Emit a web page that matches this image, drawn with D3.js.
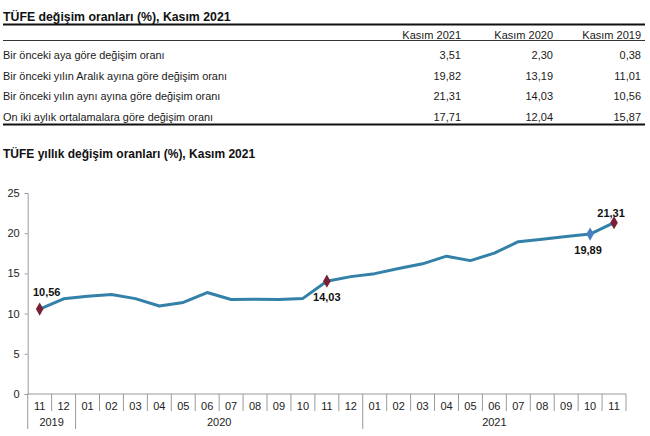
<!DOCTYPE html>
<html><head><meta charset="utf-8">
<script src="https://cdn.jsdelivr.net/npm/d3@7"></script>
<style>
html,body{margin:0;padding:0;background:#fff;}
svg{display:block;font-family:"Liberation Sans",Arial,sans-serif;}
</style></head>
<body><svg id="c" width="650" height="436"></svg>
<script>
const tableTitle = "TÜFE değişim oranları (%), Kasım 2021";
const tableCols = ["Kasım 2021","Kasım 2020","Kasım 2019"];
const rowLabels = [
  "Bir önceki aya göre değişim oranı",
  "Bir önceki yılın Aralık ayına göre değişim oranı",
  "Bir önceki yılın aynı ayına göre değişim oranı",
  "On iki aylık ortalamalara göre değişim oranı"
];
const kasim2021 = [3.51, 19.82, 21.31, 17.71];
const kasim2020 = [2.30, 13.19, 14.03, 12.04];
const kasim2019 = [0.38, 11.01, 10.56, 15.87];

const chartTitle = "TÜFE yıllık değişim oranları (%), Kasım 2021";
const months = ["11","12","01","02","03","04","05","06","07","08","09","10","11","12","01","02","03","04","05","06","07","08","09","10","11"];
const years = ["2019","2020","2021"];
const yearCounts = [2, 12, 11];
const values = [10.56,11.84,12.15,12.37,11.86,10.94,11.39,12.62,11.76,11.77,11.75,11.89,14.03,14.60,14.97,15.61,16.19,17.14,16.59,17.53,18.95,19.25,19.58,19.89,21.31];
const yTicks = [0,5,10,15,20,25];
const redMarkers = [0, 12, 24];
const blueMarkers = [23];

(function(){
const loc = d3.formatLocale({decimal:",", thousands:".", grouping:[3], currency:["","TL"]});
const f2 = loc.format(".2f");

const svg = d3.select("#c");
const txt = "#1a1a1a";

// ---------- table ----------
svg.append("text").attr("x",3).attr("y",21).attr("font-size",12.3).attr("font-weight","bold")
  .attr("fill","#111").text(tableTitle);
svg.append("line").attr("x1",3).attr("x2",645).attr("y1",24.5).attr("y2",24.5).attr("stroke","#111").attr("stroke-width",2);
svg.append("line").attr("x1",3).attr("x2",645).attr("y1",40.5).attr("y2",40.5).attr("stroke","#333").attr("stroke-width",1);
const colX = [461, 553, 641];
const colVals = [kasim2021, kasim2020, kasim2019];
tableCols.forEach((c,i)=>{
  svg.append("text").attr("x",colX[i]).attr("y",38.5).attr("text-anchor","end").attr("font-size",11).attr("fill",txt).text(c);
});
const rowY = [59, 79.5, 100, 120.5];
rowLabels.forEach((r,j)=>{
  svg.append("text").attr("x",3).attr("y",rowY[j]).attr("font-size",10.9).attr("fill",txt).text(r);
  colVals.forEach((arr,i)=>{
    svg.append("text").attr("x",colX[i]).attr("y",rowY[j]).attr("text-anchor","end").attr("font-size",11).attr("fill",txt).text(f2(arr[j]));
  });
});
svg.append("line").attr("x1",3).attr("x2",645).attr("y1",124.5).attr("y2",124.5).attr("stroke","#111").attr("stroke-width",2);

// ---------- chart ----------
svg.append("text").attr("x",3).attr("y",157.5).attr("font-size",12).attr("font-weight","bold")
  .attr("fill","#111").text(chartTitle);

const pLeft = 27.7, pRight = 626, pTop = 193, pBottom = 394;
const x = d3.scaleBand().domain(d3.range(months.length)).range([pLeft,pRight]).padding(0);
const y = d3.scaleLinear().domain([0,25]).range([pBottom, pTop]);
const axisCol = "#9a9a9a";

// y axis
const ya = svg.append("g").attr("transform",`translate(${pLeft},0)`)
  .call(d3.axisLeft(y).tickValues(yTicks).tickSize(3).tickPadding(5).tickFormat(d3.format("d")));
ya.select(".domain").attr("stroke",axisCol);
ya.selectAll(".tick line").attr("stroke",axisCol);
ya.selectAll(".tick text").attr("font-size",11).attr("fill","#222").attr("font-family","Liberation Sans, Arial, sans-serif");

// x axis
const xa = svg.append("g").attr("transform",`translate(0,${pBottom})`)
  .call(d3.axisBottom(x).tickSize(0).tickPadding(8).tickFormat(i=>months[i]));
xa.select(".domain").remove();
xa.selectAll(".tick text").attr("font-size",11).attr("fill","#222").attr("font-family","Liberation Sans, Arial, sans-serif");
svg.append("line").attr("x1",pLeft).attr("x2",pRight).attr("y1",pBottom).attr("y2",pBottom).attr("stroke",axisCol);

// separators
const yearStarts = [];
let acc = 0;
yearCounts.forEach(n=>{ yearStarts.push(acc); acc += n; });
const bounds = d3.range(months.length+1);
const bx = i => i<months.length ? x(i) : x(months.length-1)+x.bandwidth();
svg.selectAll("line.sep").data(bounds).enter().append("line").attr("class","sep")
  .attr("x1",bx).attr("x2",bx)
  .attr("y1",pBottom)
  .attr("y2",i=> yearStarts.includes(i) ? 429 : 411)
  .attr("stroke",axisCol).attr("stroke-width",1);

// year labels
years.forEach((yr,k)=>{
  const s = yearStarts[k], e = s + yearCounts[k] - 1;
  const cx = (x(s) + x(e) + x.bandwidth())/2;
  svg.append("text").attr("x",cx).attr("y",426).attr("text-anchor","middle").attr("font-size",11).attr("fill","#222").text(yr);
});

// line
const line = d3.line().x((d,i)=>x(i)+x.bandwidth()/2).y(d=>y(d));
svg.append("path").datum(values).attr("d",line).attr("fill","none")
  .attr("stroke","#3380a8").attr("stroke-width",3).attr("stroke-linejoin","round");

const diamond = d3.symbol().type(d3.symbolDiamond).size(50);
svg.selectAll("path.red").data(redMarkers).enter().append("path").attr("class","red")
  .attr("d",diamond).attr("transform",i=>`translate(${x(i)+x.bandwidth()/2},${y(values[i])})`)
  .attr("fill","#7a2036");
svg.selectAll("path.blue").data(blueMarkers).enter().append("path").attr("class","blue")
  .attr("d",diamond).attr("transform",i=>`translate(${x(i)+x.bandwidth()/2},${y(values[i])})`)
  .attr("fill","#4a7fc0");

// data labels
const lbl = (i, dy, dx) => svg.append("text")
  .attr("x", x(i)+x.bandwidth()/2 + dx).attr("y", y(values[i]) + dy)
  .attr("text-anchor","middle").attr("font-size",11).attr("font-weight","bold").attr("fill","#111")
  .text(f2(values[i]));
lbl(0, -13, 7);
lbl(12, 19.5, 0);
lbl(23, 20, -2);
lbl(24, -6, -3);
})();
</script></body></html>
